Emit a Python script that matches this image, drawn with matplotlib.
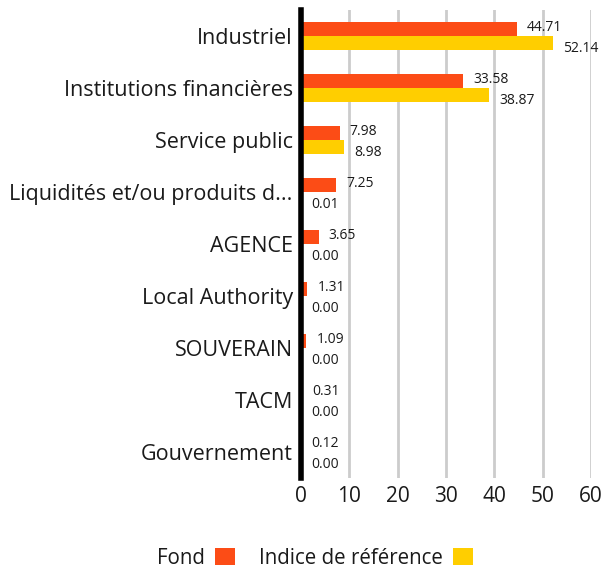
import matplotlib.pyplot as plt
import numpy as np

# données
categories = ['Industriel', 'Institutions financières', 'Service public',
              'Liquidités et/ou produits d...', 'AGENCE', 'Local Authority',
              'SOUVERAIN', 'TACM', 'Gouvernement']
fond = [44.71, 33.58, 7.98, 7.25, 3.65, 1.31, 1.09, 0.31, 0.12]
indice = [52.14, 38.87, 8.98, 0.01, 0.00, 0.00, 0.00, 0.00, 0.00]
xticks = [0, 10, 20, 30, 40, 50, 60]

color_fond = '#FC4C16'
color_indice = '#FFCE00'
txt = '#1a1a1a'

plt.rcParams['font.family'] = ['Open Sans', 'DejaVu Sans']

fig = plt.figure(figsize=(6.04, 5.73), dpi=100)
ax = fig.add_axes([301/604, 1 - 478/573, (591-301)/604, (478-10)/573])

y = np.arange(len(categories))
h = 0.26
ax.barh(y - h/2, fond, height=h, color=color_fond, label='Fond', zorder=3)
ax.barh(y + h/2, indice, height=h, color=color_indice, label='Indice de référence', zorder=3)

# étiquettes de valeur
for i, (f, b) in enumerate(zip(fond, indice)):
    ax.text(f + 2.1, i - h/2 - 0.03, f'{f:.2f}', ha='left', va='center', fontsize=10, color=txt)
    ax.text(b + 2.1, i + h/2 + 0.12, f'{b:.2f}', ha='left', va='center', fontsize=10, color=txt)

ax.set_xlim(0, 60)
ax.set_ylim(len(categories) - 0.5, -0.5)
ax.set_xticks(xticks)
ax.set_xticklabels([str(v) for v in xticks], fontsize=15, color=txt)
ax.tick_params(axis='both', length=0)
ax.tick_params(axis='x', pad=6)
ax.set_yticks(y)
ax.set_yticklabels(categories, fontsize=15.5, color=txt)
ax.tick_params(axis='y', pad=6)

ax.grid(axis='x', color='#cccccc', linewidth=2, zorder=0)
for s in ['top', 'right', 'bottom']:
    ax.spines[s].set_visible(False)
ax.spines['left'].set_linewidth(4)
ax.spines['left'].set_color('black')
ax.spines['left'].set_zorder(4)

leg = fig.legend(loc='center', bbox_to_anchor=(315/604, 1 - 558/573), ncol=2, frameon=False,
                 markerfirst=False, fontsize=14.8, handlelength=0.95, handleheight=0.95,
                 columnspacing=1.2, handletextpad=0.5)
for t in leg.get_texts():
    t.set_color(txt)

plt.savefig('out.png', dpi=100)
